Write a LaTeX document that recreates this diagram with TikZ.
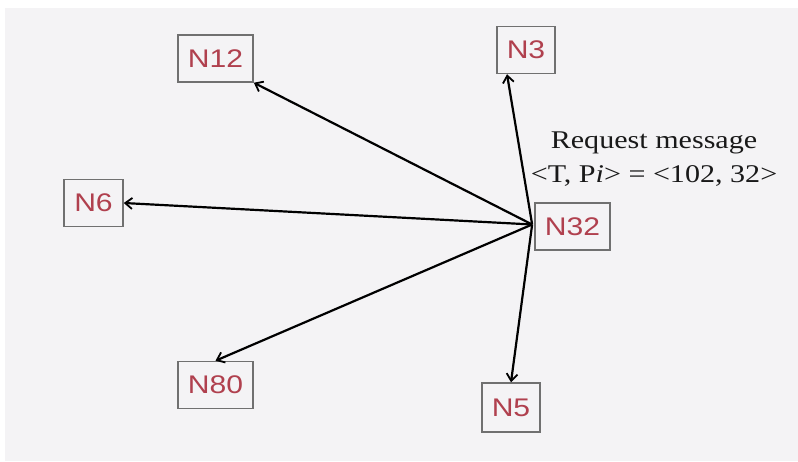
\documentclass[tikz,border=0pt]{standalone}
\usepackage{fontspec}
\setmainfont{Liberation Serif}[FakeStretch=1.18]
\newfontfamily\boxfont{Liberation Sans}[FakeStretch=1.18]
\usetikzlibrary{arrows.meta}
\definecolor{pagebg}{HTML}{F4F3F5}
\definecolor{labelred}{HTML}{B0404E}
\definecolor{boxgray}{HTML}{707070}
\tikzset{
  peer/.style={draw=boxgray, line width=1.5pt, font=\boxfont\fontsize{25.5}{25.5}\selectfont,
    text=labelred, minimum height=47pt, inner xsep=10pt, inner ysep=0pt},
  msg/.style={-{Straight Barb[length=7pt,width=11pt,line width=1.8pt]}, line width=2.2pt, black},
  caption/.style={font=\fontsize{25.5}{25.5}\selectfont, text=black!90, anchor=base, inner sep=0pt}
}
\begin{document}
\begin{tikzpicture}[x=1pt,y=1pt]
  % canvas
  \fill[white] (0,0) rectangle (798,461);
  \fill[pagebg] (5,0) rectangle (798,453);
  \useasboundingbox (0,0) rectangle (798,461);

  % peers
  \node[peer, minimum width=75pt] (N12) at (215.5,402.5) {N12};
  \node[peer, minimum width=58pt] (N3)  at (526,411) {N3};
  \node[peer, minimum width=59pt] (N6)  at (93.5,258) {N6};
  \node[peer, minimum width=75pt] (N32) at (572.5,234.5) {N32};
  \node[peer, minimum width=75pt] (N80) at (215.5,76) {N80};
  \node[peer, minimum width=58pt, minimum height=49pt] (N5) at (511,53.5) {N5};

  % request message label
  \node[caption] (req) at (654,312) {Request message};
  \node[caption] (tp) at (654,278) {<T, P\textit{i}> = <102, 32>};

  % broadcast of the request from N32
  \coordinate (src) at ([xshift=-2pt,yshift=2pt]N32.west);
  \draw[msg] (src) -- (N12.south east);
  \draw[msg] (src) -- ([xshift=-19pt]N3.south);
  \draw[msg] (src) -- (N6.east);
  \draw[msg] (src) -- (N80.north);
  \draw[msg] (src) -- (N5.north);
\end{tikzpicture}
\end{document}
